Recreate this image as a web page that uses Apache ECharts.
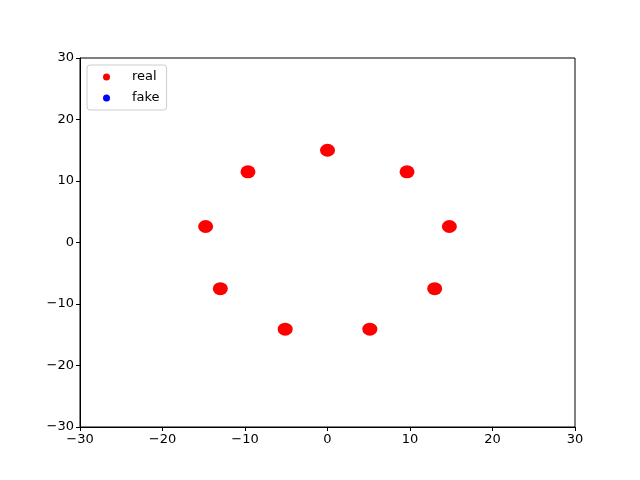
<!DOCTYPE html>
<html>
<head>
<meta charset="utf-8">
<script src="https://cdn.jsdelivr.net/npm/echarts@6/dist/echarts.min.js"></script>
<style>
  html, body { margin: 0; padding: 0; background: #fff; }
  #chart { width: 640px; height: 480px; }
</style>
</head>
<body>
<div id="chart"></div>
<script>
// cluster centres (x, y)
const realX = [0.0, 9.64, 14.77, 12.99, 5.13, -5.13, -12.99, -14.77, -9.64];
const realY = [15.0, 11.49, 2.6, -7.5, -14.1, -14.1, -7.5, 2.6, 11.49];
const fakeX = [];
const fakeY = [];
const axisTicks = [-30, -20, -10, 0, 10, 20, 30];

const font = "DejaVu Sans";
const minus = (v) => String(v).replace("-", "\u2212");

const chart = echarts.init(document.getElementById("chart"));

const axisCommon = {
  type: "value",
  min: axisTicks[0],
  max: axisTicks[axisTicks.length - 1],
  interval: 10,
  splitLine: { show: false },
  axisLine: { onZero: false, lineStyle: { color: "#000", width: 1 } },
  axisTick: { inside: false, length: 4, lineStyle: { color: "#000" } },
  axisLabel: {
    color: "#000",
    fontFamily: font,
    fontSize: 13,
    margin: 6,
    formatter: minus,
  },
};

const option = {
  animation: false,
  grid: {
    left: 80,
    right: 65,
    top: 58,
    bottom: 53,
    show: true,
    borderColor: "#000",
    borderWidth: 1,
    backgroundColor: "transparent",
  },
  xAxis: Object.assign({}, axisCommon),
  yAxis: Object.assign({}, axisCommon),
  legend: {
    orient: "vertical",
    left: 87,
    top: 65,
    icon: "circle",
    itemWidth: 7,
    itemHeight: 7,
    itemGap: 5,
    padding: [4, 7, 4, 16],
    borderColor: "#cccccc",
    borderWidth: 1,
    borderRadius: 3,
    backgroundColor: "rgba(255,255,255,0.8)",
    textStyle: {
      color: "#000",
      fontFamily: font,
      fontSize: 13,
      lineHeight: 16,
      padding: [0, 0, 0, 17],
    },
    data: ["real", "fake"],
  },
  series: [
    {
      name: "real",
      type: "scatter",
      symbol: "circle",
      symbolSize: [15, 13],
      itemStyle: { color: "#ff0000", opacity: 1 },
      data: realX.map((x, i) => [x, realY[i]]),
    },
    {
      name: "fake",
      type: "scatter",
      symbol: "circle",
      symbolSize: 6,
      itemStyle: { color: "#0000ff", opacity: 1 },
      data: fakeX.map((x, i) => [x, fakeY[i]]),
    },
  ],
};

chart.setOption(option);
</script>
</body>
</html>
